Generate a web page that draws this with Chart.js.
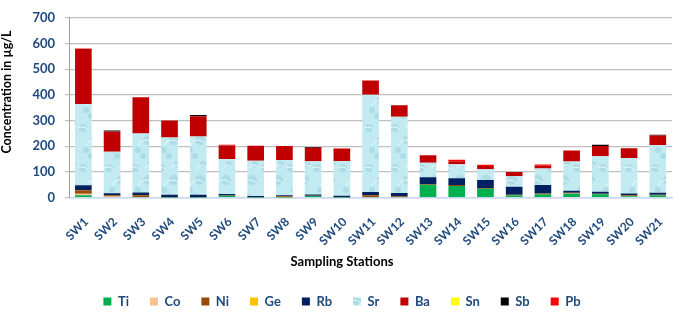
<!DOCTYPE html>
<html>
<head>
<meta charset="utf-8">
<script src="https://cdn.jsdelivr.net/npm/chart.js@4.4.1/dist/chart.umd.min.js"></script>
<style>
html,body{margin:0;padding:0;background:#fff;}
#wrap{width:685px;height:314px;position:relative;}
</style>
</head>
<body>
<div id="wrap"><canvas id="c" width="685" height="314"></canvas></div>
<script>
const stations = ['SW1','SW2','SW3','SW4','SW5','SW6','SW7','SW8','SW9','SW10','SW11','SW12','SW13','SW14','SW15','SW16','SW17','SW18','SW19','SW20','SW21'];
const yTicks = [0,100,200,300,400,500,600,700];
const Ti = [10,3,2,1,1,8,1,1,7,1,2,2,50,46,35,9,13,15,13,6,9];
const Co = [5,2,1,0,0,0,0,1,0,0,1,1,0,0,0,0,0,1,0,1,0];
const Ni = [14,5,7,1,1,1,1,4,1,1,7,3,3,3,3,2,3,3,2,3,2];
const Ge = [1,0,0,0,0,0,0,0,0,0,0,0,0,0,0,0,0,0,0,0,0];
const Rb = [18,7,10,9,9,5,5,4,4,6,12,12,27,27,31,32,33,8,8,6,8];
const Sr = [317,162,230,223,227,137,137,137,130,135,379,297,56,54,42,40,65,114,138,138,186];
const Ba = [215,79,141,66,79,52,58,54,52,48,55,45,29,12,12,17,10,43,40,38,37];
const Sn = [0,0,0,0,0,0,0,0,0,0,0,0,0,0,0,0,0,0,0,0,0];
const Sb = [0,3,0,0,5,0,0,0,3,0,0,0,0,0,0,0,0,0,5,0,3];
const Pb = [1,0,0,0,0,3,0,0,0,0,0,0,0,6,5,0,5,0,0,0,0];

function makeSrPattern(){
  const c = document.createElement('canvas');
  c.width = 26; c.height = 40;
  const g = c.getContext('2d');
  g.fillStyle = '#c2eaf1'; g.fillRect(0,0,26,40);
  g.fillStyle = 'rgba(140,200,215,0.4)';
  [[5,8,4],[18,20,5],[8,30,3],[21,4,3],[13,36,3]].forEach(([x,y,r])=>{g.beginPath();g.arc(x,y,r,0,Math.PI*2);g.fill();});
  g.strokeStyle = 'rgba(255,255,255,0.8)'; g.lineWidth = 1;
  [[4,14,7],[16,28,8],[20,10,5]].forEach(([x,y,r])=>{g.beginPath();g.arc(x,y,r,Math.PI*1.1,Math.PI*1.8);g.stroke();});
  return g.createPattern(c,'repeat');
}
const srFill = makeSrPattern();

const series = [
  ['Ti', Ti, '#00b050'],
  ['Co', Co, '#fac090'],
  ['Ni', Ni, '#984807'],
  ['Ge', Ge, '#ffc000'],
  ['Rb', Rb, '#002060'],
  ['Sr', Sr, srFill],
  ['Ba', Ba, '#c00000'],
  ['Sn', Sn, '#ffff00'],
  ['Sb', Sb, '#000000'],
  ['Pb', Pb, '#ff0000']
];

const FONT = 'Lato, "Open Sans", sans-serif';
const yTitlePlugin = {
  id: 'yTitle',
  afterDraw(chart){
    const ctx = chart.ctx;
    ctx.save();
    ctx.translate(7, 92);
    ctx.rotate(-Math.PI/2);
    ctx.font = 'bold 12.5px ' + FONT;
    ctx.fillStyle = '#000';
    ctx.textAlign = 'center';
    ctx.textBaseline = 'middle';
    ctx.fillText('Concentration in µg/L', 0, 0);
    ctx.restore();
  }
};

new Chart(document.getElementById('c'), {
  type: 'bar',
  data: {
    labels: stations,
    datasets: series.map(([name, vals, col]) => ({
      label: name, data: vals, backgroundColor: col, borderWidth: 0,
      barPercentage: 0.58, categoryPercentage: 1.0
    }))
  },
  options: {
    responsive: false,
    animation: false,
    layout: { padding: { left: 0, right: 1, top: 0, bottom: -4 } },
    scales: {
      x: {
        stacked: true,
        grid: { display: false, drawTicks: false },
        border: { color: '#c6d9f1', width: 1.5 },
        ticks: { color: '#1f497d', font: { family: FONT, size: 12, weight: 'bold' }, minRotation: 45, maxRotation: 45, padding: 17, labelOffset: 3, autoSkip: false },
        afterFit(s){ s.height = 50; }
      },
      y: {
        stacked: true,
        min: 0, max: 700,
        afterBuildTicks(s){ s.ticks = yTicks.map(v => ({ value: v })); },
        grid: { color: '#c0c0c0', lineWidth: 1.2, tickLength: 4 },
        border: { color: '#a0a0a0', width: 1 },
        ticks: { color: '#1f497d', font: { family: FONT, size: 13, weight: 'bold' }, padding: 10 },
        afterFit(s){ s.width = 69; }
      }
    },
    plugins: {
      title: {
        display: true, position: 'bottom', weight: 500,
        text: 'Sampling Stations', color: '#000',
        font: { family: FONT, size: 13, weight: 'bold' },
        padding: { top: 6.5, bottom: 4.2 }
      },
      legend: {
        position: 'bottom',
        labels: {
          color: '#1f497d', font: { family: FONT, size: 13, weight: 'bold' },
          boxWidth: 8, boxHeight: 8, padding: 21
        }
      },
      tooltip: { enabled: false }
    }
  },
  plugins: [yTitlePlugin]
});
</script>
</body>
</html>
